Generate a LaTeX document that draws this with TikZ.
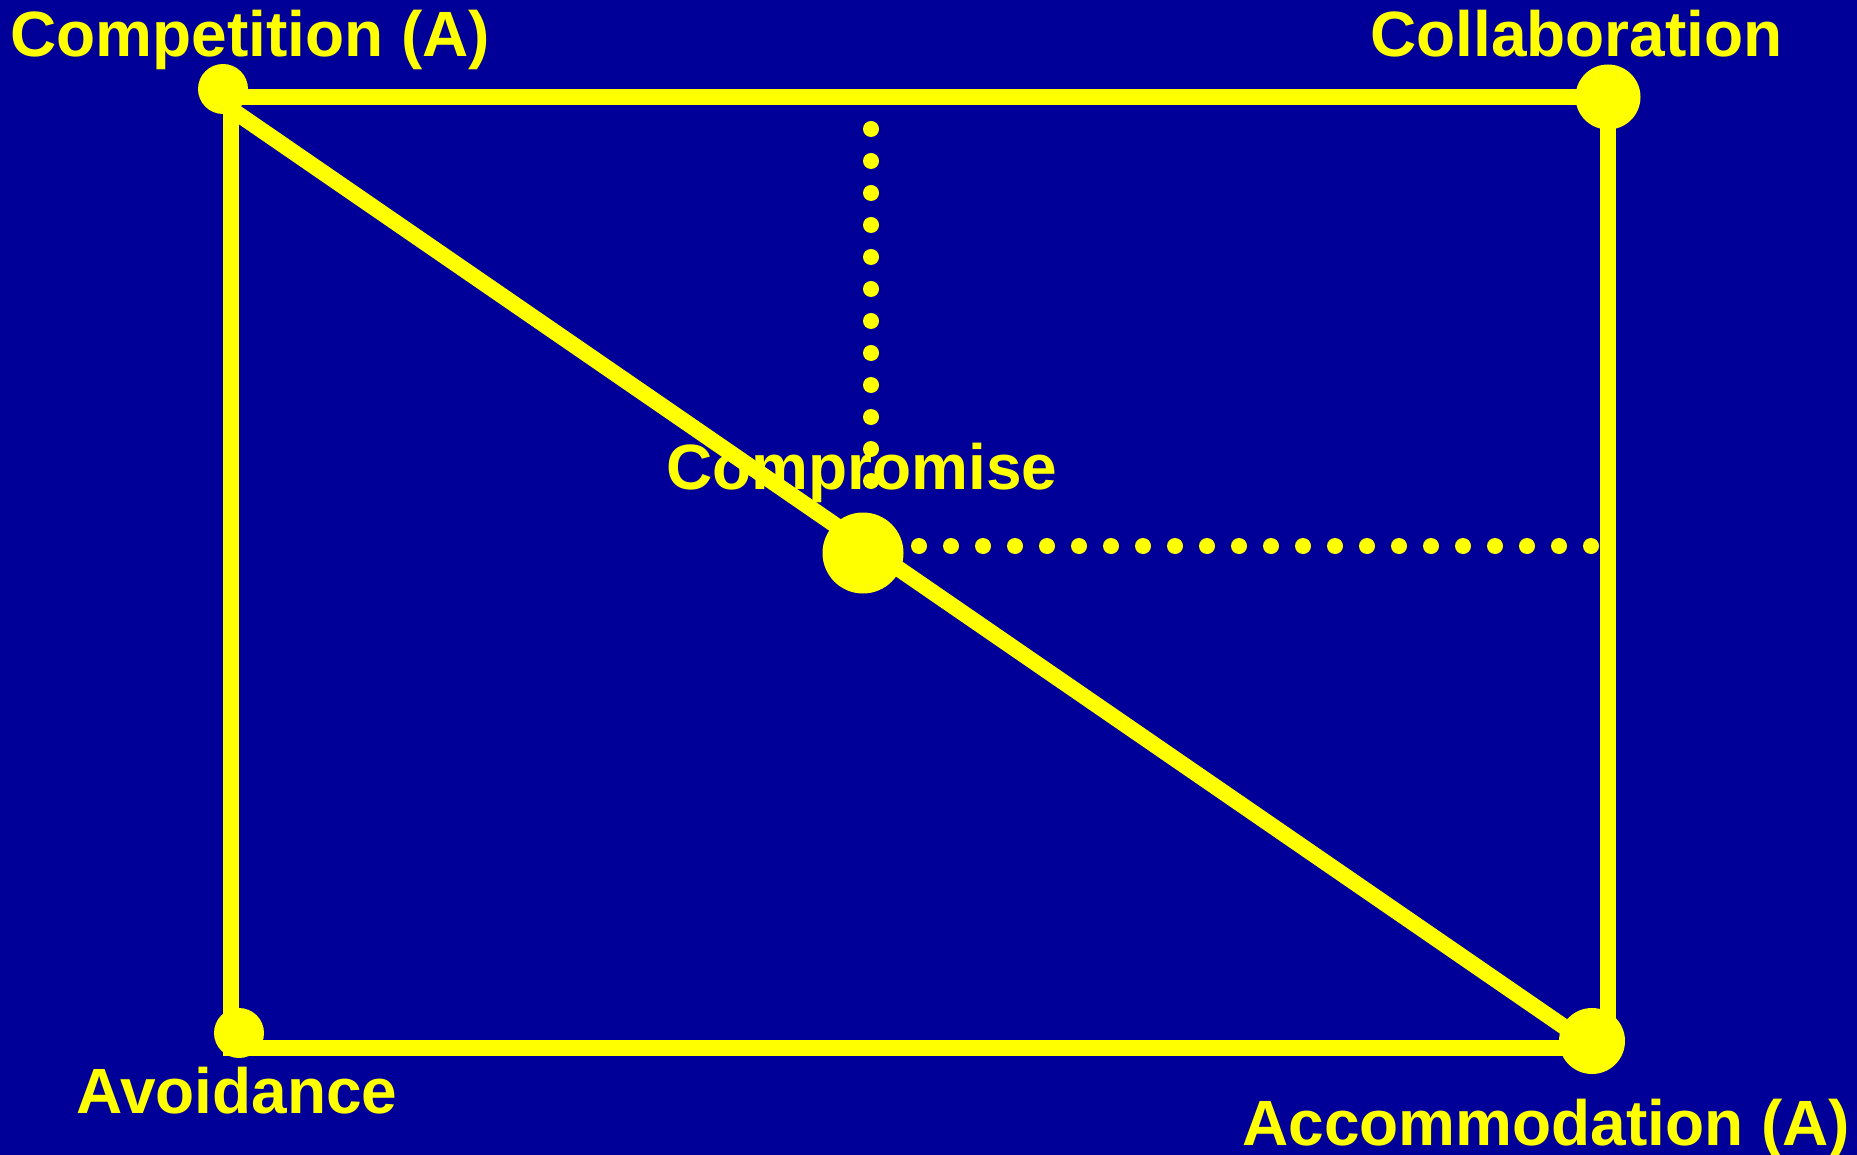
\documentclass[tikz,border=0pt]{standalone}
\usepackage{fontspec}
\setmainfont{Liberation Sans}
\definecolor{bgblue}{RGB}{0,0,153}
\definecolor{ylw}{RGB}{255,255,0}
\tikzset{
  frameline/.style={draw=ylw, line width=16pt, line join=miter},
  dotline/.style={draw=ylw, line width=16pt, line cap=round, dash pattern=on 0pt off 32pt},
  bigdot/.style={circle, fill=ylw, inner sep=0pt, minimum size=#1},
  lbl/.style={text=ylw, inner sep=0pt, font=\fontsize{64pt}{70pt}\selectfont\bfseries}
}
\begin{document}
\begin{tikzpicture}[x=1pt,y=-1pt]
\useasboundingbox (0,0) rectangle (1857,1155);
\fill[bgblue] (0,0) rectangle (1857,1155);
% frame corners
\coordinate (tl) at (231,97);
\coordinate (tr) at (1608,97);
\coordinate (br) at (1608,1048);
\coordinate (bl) at (231,1048);
% diagonal ends
\coordinate (dstart) at (225,105);
\coordinate (dend) at (1592,1046);
% dotted guides
\coordinate (vtop) at (871,97);
\coordinate (vbot) at (871,483);
\coordinate (hleft) at (919,546);
\coordinate (hright) at (1594,546);
\draw[frameline] (tl) -- (tr) -- (br) -- (bl) -- cycle;
\draw[frameline] (dstart) -- (dend);
\draw[dotline] (vtop) -- (vbot);
\draw[dotline] (hleft) -- (hright);
% dots
\node[bigdot=50pt] (competition) at (223,89) {};
\node[bigdot=65pt] (collaboration) at (1608,97) {};
\node[bigdot=50pt] (avoidance) at (239,1033) {};
\node[bigdot=66pt] (accommodation) at (1592,1041) {};
\node[bigdot=81pt] (compromise) at (863,553) {};
% labels
\node[lbl, anchor=base west] (tcompetition) at (10,57) {Competition (A)};
\node[lbl, anchor=base west] (tcollaboration) at (1370,57) {Collaboration};
\node[lbl, anchor=base] (tcompromise) at (862,489) {Compromise};
\node[lbl, anchor=base west] (tavoidance) at (76,1113) {Avoidance};
\node[lbl, anchor=base west] (taccommodation) at (1242,1145) {Accommodation (A)};
\end{tikzpicture}
\end{document}
